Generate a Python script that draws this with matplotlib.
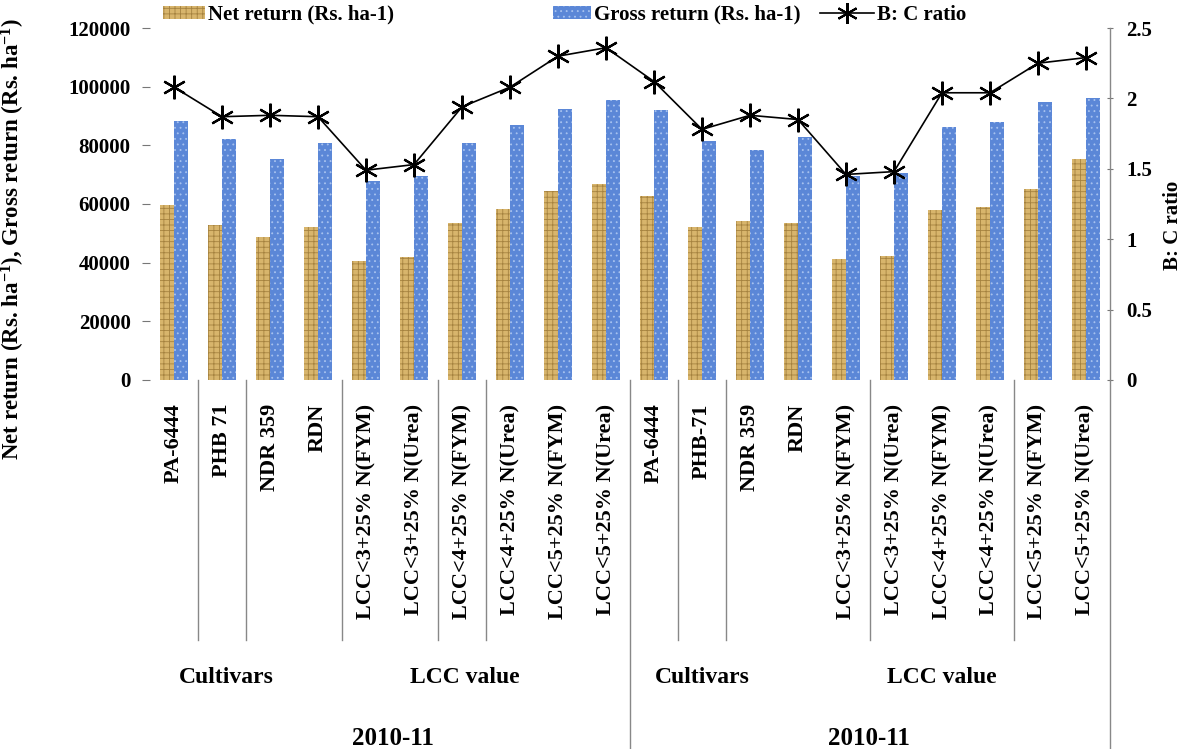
import numpy as np
import matplotlib
matplotlib.use("Agg")
import matplotlib.pyplot as plt
from matplotlib.lines import Line2D
from matplotlib.patches import Patch
import matplotlib.transforms as mtransforms

plt.rcParams["font.family"] = "Liberation Serif"
plt.rcParams["font.weight"] = "bold"
plt.rcParams["axes.labelweight"] = "bold"
plt.rcParams["mathtext.fontset"] = "custom"
plt.rcParams["mathtext.rm"] = "Liberation Serif:bold"
plt.rcParams["mathtext.default"] = "rm"
plt.rcParams["hatch.linewidth"] = 0.6

treatments = ["PA-6444", "PHB 71", "NDR 359", "RDN",
              "LCC<3+25% N(FYM)", "LCC<3+25% N(Urea)",
              "LCC<4+25% N(FYM)", "LCC<4+25% N(Urea)",
              "LCC<5+25% N(FYM)", "LCC<5+25% N(Urea)",
              "PA-6444", "PHB-71", "NDR 359", "RDN",
              "LCC<3+25% N(FYM)", "LCC<3+25% N(Urea)",
              "LCC<4+25% N(FYM)", "LCC<4+25% N(Urea)",
              "LCC<5+25% N(FYM)", "LCC<5+25% N(Urea)"]

net_return = [59800, 53000, 48800, 52200, 40400, 41800, 53600, 58400, 64400, 66700,
              62700, 52200, 54100, 53600, 41300, 42400, 57800, 58900, 65200, 75500]
gross_return = [88300, 82300, 75500, 80900, 67800, 69500, 80900, 86800, 92500, 95400,
                92000, 81500, 78300, 83000, 69500, 70700, 86400, 87800, 94800, 96300]
bc_ratio = [2.08, 1.87, 1.88, 1.87, 1.49, 1.53, 1.94, 2.08, 2.30, 2.36,
            2.12, 1.78, 1.88, 1.85, 1.46, 1.48, 2.04, 2.04, 2.25, 2.29]

groups = ["Cultivars", "LCC value", "Cultivars", "LCC value"]
group_x = [1.08, 6.06, 11.0, 16.0]
years = ["2010-11", "2010-11"]
year_x = [4.56, 14.48]

x = np.arange(len(treatments))
w = 0.29

fig = plt.figure(figsize=(11.86, 7.49), dpi=100)
ax = fig.add_axes([0.1265, 0.4927, 0.8094, 0.4699])

net_style = dict(facecolor="#d8b56c", edgecolor="#a5823f", hatch="+++", linewidth=0)
gross_style = dict(facecolor="#5b87d7", edgecolor="#a7c2ef", hatch="...", linewidth=0)
ax.bar(x - w / 2, net_return, w, **net_style)
ax.bar(x + w / 2, gross_return, w, **gross_style)

ax.set_xlim(-0.5, len(treatments) - 0.5)
ax.set_ylim(0, 120000)
ax.set_yticks(np.arange(0, 120001, 20000))
ax.tick_params(axis="y", labelsize=15, length=6, width=0.8, color="#777777", pad=8)
ax.set_xticks(x)
ax.set_xticklabels(treatments, rotation=90, fontsize=16, va="top")
ax.tick_params(axis="x", length=0, pad=17)
for s in ["top", "left", "right", "bottom"]:
    ax.spines[s].set_visible(False)

ax.set_ylabel("Net return (Rs. ha$^{-1}$), Gross return (Rs. ha$^{-1}$)", fontsize=16.5)
ax.yaxis.set_label_coords(-0.128, 0.40)

ax2 = ax.twinx()
ax2.plot(x, bc_ratio, color="black", linewidth=1.2, marker=(6, 2, 0),
         markersize=17, markeredgewidth=1.6)
ax2.set_ylim(0, 2.5)
ax2.set_yticks([0, 0.5, 1, 1.5, 2, 2.5])
ax2.set_yticklabels(["0", "0.5", "1", "1.5", "2", "2.5"])
ax2.tick_params(axis="y", labelsize=15, length=5, width=0.8, color="#777777",
                direction="inout", pad=9)
for s in ["top", "left", "bottom"]:
    ax2.spines[s].set_visible(False)
ax2.spines["right"].set_color("#888888")
ax2.spines["right"].set_linewidth(1.0)
ax2.set_ylabel("B: C ratio", fontsize=15)
ax2.yaxis.set_label_coords(1.055, 0.44)

# category separators below the axis
trans = mtransforms.blended_transform_factory(ax.transData, ax.transAxes)
for b in [0.5, 1.5, 3.5, 5.5, 6.5, 10.5, 11.5, 14.5, 17.5]:
    ax.plot([b, b], [0, -0.74], color="#888888", linewidth=1.0,
            transform=trans, clip_on=False)
for b in [9.5, 19.5]:
    ax.plot([b, b], [0, -1.07], color="#888888", linewidth=1.0,
            transform=trans, clip_on=False)

for gx, g in zip(group_x, groups):
    ax.text(gx, -0.844, g, transform=trans, ha="center", va="center", fontsize=17)
for yx, yr in zip(year_x, years):
    ax.text(yx, -1.02, yr, transform=trans, ha="center", va="center", fontsize=18)

# legend entries placed one by one along the top
entries = [
    (Patch(**net_style), "Net return (Rs. ha-1)", 0.1374, 2.0),
    (Patch(**gross_style), "Gross return (Rs. ha-1)", 0.4663, 1.8),
    (Line2D([], [], color="black", linewidth=1.2, marker=(6, 2, 0),
            markersize=15, markeredgewidth=1.5), "B: C ratio", 0.6914, 2.6),
]
for h, lab, lx, hl in entries:
    fig.legend([h], [lab], loc="center left", bbox_to_anchor=(lx, 0.98),
               frameon=False, fontsize=15, handlelength=hl, handleheight=0.6,
               handletextpad=0.15, borderpad=0, borderaxespad=0)

fig.savefig("out.png", dpi=100)
